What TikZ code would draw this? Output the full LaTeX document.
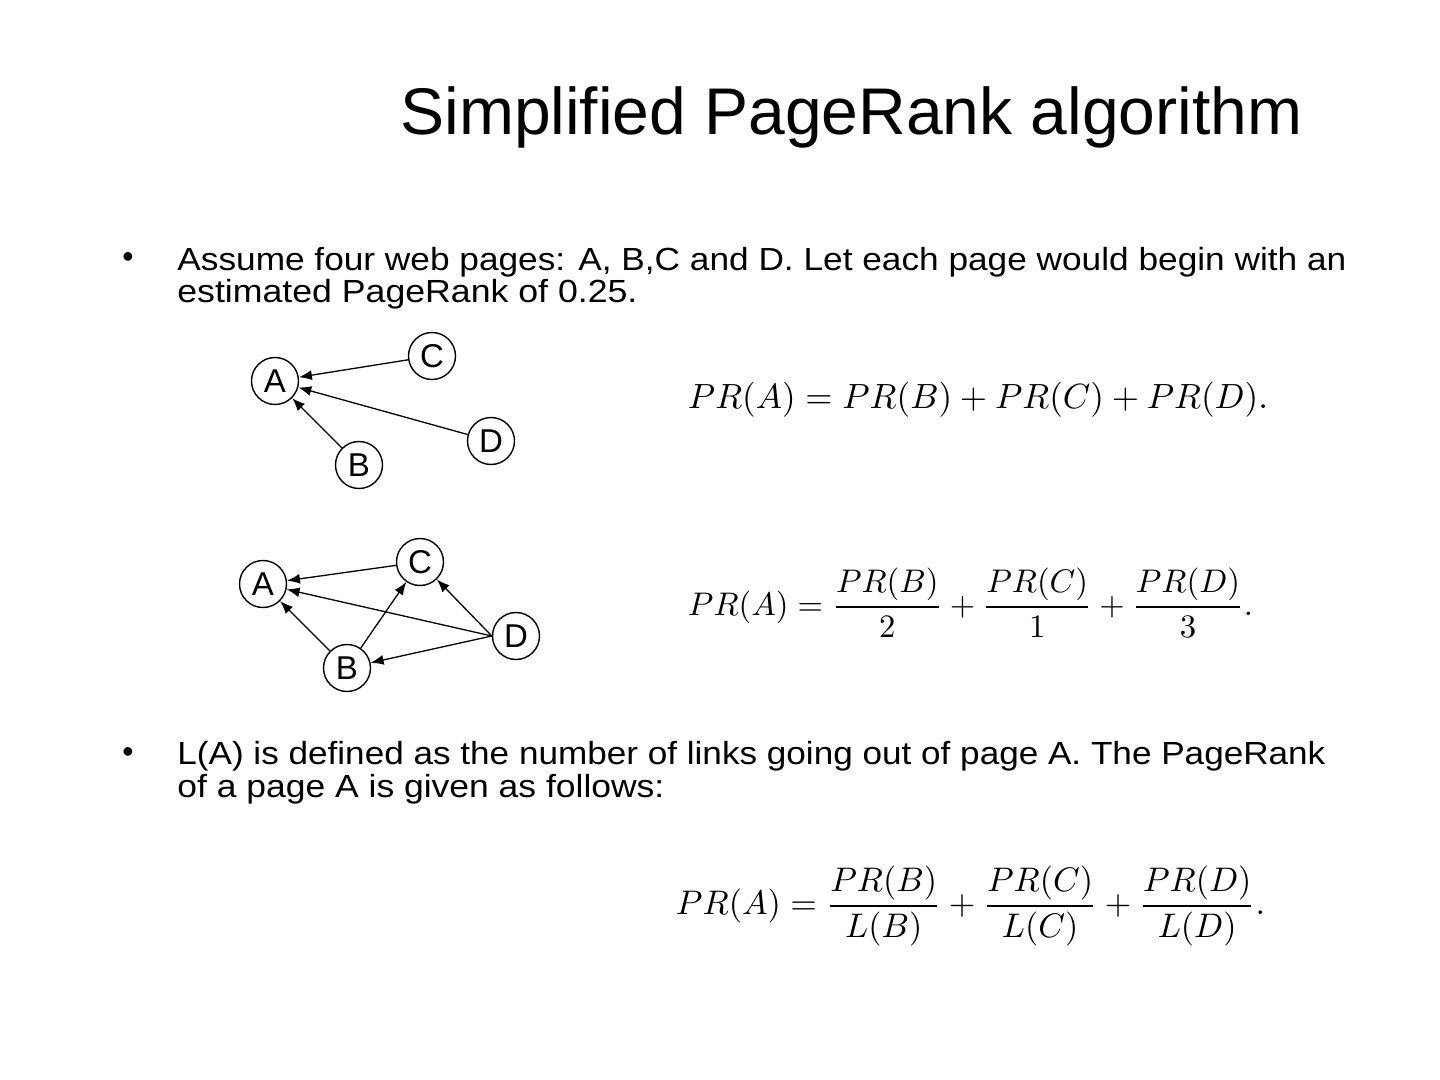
\documentclass[tikz,border=0pt]{standalone}
\usepackage{amsmath}
\usepackage{fontspec}
\setmainfont{Liberation Sans}
\usepackage{graphicx}
\usetikzlibrary{arrows.meta}
\begin{document}
\begin{tikzpicture}[x=0.5pt,y=-0.5pt,
  pg/.style={circle,draw,line width=0.7pt,minimum size=23.5pt,inner sep=0pt,font=\fontsize{16.5}{17}\selectfont},
  lnk/.style={line width=0.65pt,-{Latex[length=6.5pt,width=5pt]}},
  txt/.style={anchor=base west,inner sep=0pt,font=\fontsize{16}{17}\selectfont},
  eq/.style={inner sep=0pt}]
\useasboundingbox (0,0) rectangle (1440,1080);
% title
\node[anchor=base west,inner sep=0pt,font=\fontsize{33}{36}\selectfont] (title) at (400,135)
  {\resizebox{451pt}{\height}{Simplified PageRank algorithm}};
% bullets
\node[anchor=base,inner sep=0pt,font=\fontsize{16}{17}\selectfont] (b1) at (128,268) {•};
\node[anchor=base,inner sep=0pt,font=\fontsize{16}{17}\selectfont] (b2) at (128,762) {•};
\node[txt] (l1) at (177,271) {\resizebox{584.5pt}{\height}{Assume four web pages: A, B,C and D. Let each page would begin with an}};
\node[txt] (l2) at (177,303) {\resizebox{230pt}{\height}{estimated PageRank of 0.25.}};
\node[txt] (l3) at (177,764) {\resizebox{574pt}{\height}{L(A) is defined as the number of links going out of page A. The PageRank}};
\node[txt] (l4) at (177,797) {\resizebox{243.5pt}{\height}{of a page A is given as follows:}};
% graph 1
\node[pg] (A1) at (275,381) {A};
\node[pg] (C1) at (432,356) {C};
\node[pg] (D1) at (491,441) {D};
\node[pg] (B1) at (359,465) {B};
\draw[lnk] (C1) -- (A1);
\draw[lnk] (D1) -- (A1);
\draw[lnk] (B1) -- (A1);
% graph 2
\node[pg] (A2) at (263,584) {A};
\node[pg] (C2) at (420,562) {C};
\node[pg] (D2) at (516,636) {D};
\node[pg] (B2) at (347,668) {B};
\draw[lnk] (C2) -- (A2);
\draw[lnk] (D2.west) -- (A2);
\draw[lnk] (B2) -- (A2);
\draw[lnk] (B2) -- (C2);
\draw[lnk] (D2.west) -- (C2);
\draw[lnk] (D2.west) -- (B2);
% equations
\node[eq] (e1) at (978,400) {\resizebox{290pt}{!}{$PR(A)=PR(B)+PR(C)+PR(D).$}};
\node[eq] (e2) at (970.5,603) {\resizebox{282.5pt}{!}{$PR(A)=\dfrac{PR(B)}{2}+\dfrac{PR(C)}{1}+\dfrac{PR(D)}{3}.$}};
\node[eq] (e3) at (970.5,906) {\resizebox{294.5pt}{!}{$PR(A)=\dfrac{PR(B)}{L(B)}+\dfrac{PR(C)}{L(C)}+\dfrac{PR(D)}{L(D)}.$}};
\end{tikzpicture}
\end{document}
